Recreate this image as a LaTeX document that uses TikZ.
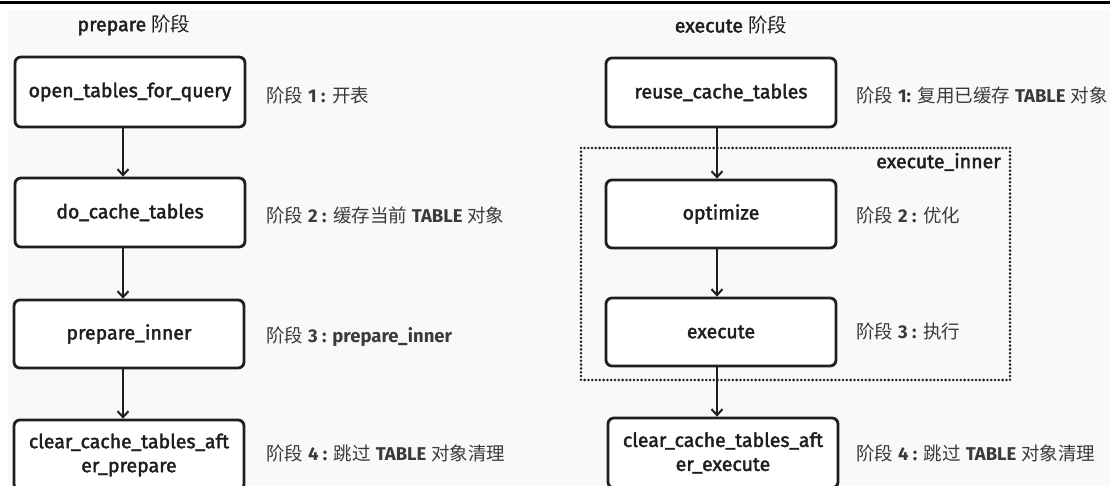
\documentclass[tikz,border=0pt]{standalone}
\usepackage{fontspec}
\usetikzlibrary{arrows.meta}
\setmainfont{Fira Sans}
\newfontfamily\boxfont{Fira Sans}[FakeBold=2]
\newfontfamily\cjk{Noto Sans CJK SC}
\definecolor{ink}{HTML}{1E1E1E}
\definecolor{bg}{HTML}{F8F9FA}
\definecolor{lblgray}{HTML}{3A3A3A}
\tikzset{
  stepbox/.style={draw=ink, line width=2.8pt, rounded corners=6pt, fill=white,
    minimum width=230pt, inner sep=0pt, text=ink, align=center,
    font=\boxfont\fontsize{19.5}{24}\selectfont},
  lbl/.style={anchor=west, inner sep=0pt, text=lblgray, font=\fontsize{18.5}{20}\selectfont},
  ttl/.style={inner sep=0pt, text=ink, font=\boxfont\fontsize{19.5}{22}\selectfont},
  flow/.style={draw=ink, line width=2pt, -{Straight Barb[length=6pt,width=11pt,line width=2pt]}},
  group/.style={draw=ink, line width=2.8pt, line cap=round, dash pattern=on 0pt off 3.8pt},
}
\newcommand{\jd}{{\cjk 阶段}}
\begin{document}
\begin{tikzpicture}[x=1pt,y=-1pt]
\useasboundingbox (0,0) rectangle (1110,486);
\fill[white] (0,0) rectangle (1110,486);
\fill[bg] (8,10) rectangle (1110,486);
\fill[black] (0,1.5) rectangle (1110,4);

% titles
\node[ttl] (tp) at (134,25) {prepare {\cjk 阶段}};
\node[ttl] (te) at (731,25) {execute {\cjk 阶段}};

% left column
\node[stepbox, minimum height=70pt] (p1) at (130,92) {open\_tables\_for\_query};
\node[stepbox, minimum height=69pt] (p2) at (130,212.5) {do\_cache\_tables};
\node[stepbox, minimum height=68pt] (p3) at (129,334) {prepare\_inner};
\node[stepbox, minimum height=70pt] (p4) at (129,455) {clear\_cache\_tables\_aft\\er\_prepare};

\node[lbl] (lp1) at (266,95) {\jd\ {\bfseries 1 :} {\cjk 开表}};
\node[lbl] (lp2) at (266,215) {\jd\ {\bfseries 2 :} {\cjk 缓存当前} {\bfseries TABLE} {\cjk 对象}};
\node[lbl] (lp3) at (266,337) {\jd\ {\bfseries 3 : prepare\_inner}};
\node[lbl] (lp4) at (266,453) {\jd\ {\bfseries 4 :} {\cjk 跳过} {\bfseries TABLE} {\cjk 对象清理}};

\draw[flow] ([xshift=-7pt]p1.south) -- ([xshift=-7pt]p2.north);
\draw[flow] ([xshift=-7pt]p2.south) -- ([xshift=-6pt]p3.north);
\draw[flow] ([xshift=-6pt]p3.south) -- ([xshift=-6pt]p4.north);

% right column
\draw[group] (581,148) rectangle (1010,380);
\node[ttl, anchor=east] (gi) at (1001,162) {execute\_inner};

\node[stepbox, minimum height=69pt] (e1) at (721,92.5) {reuse\_cache\_tables};
\node[stepbox, minimum height=68pt] (e2) at (721,214) {optimize};
\node[stepbox, minimum height=68pt] (e3) at (721,332) {execute};
\node[stepbox, minimum height=70pt] (e4) at (723,453) {clear\_cache\_tables\_aft\\er\_execute};

\node[lbl] (le1) at (856,95) {\jd\ {\bfseries 1:} {\cjk 复用已缓存} {\bfseries TABLE} {\cjk 对象}};
\node[lbl] (le2) at (856,215) {\jd\ {\bfseries 2 :} {\cjk 优化}};
\node[lbl] (le3) at (856,331) {\jd\ {\bfseries 3 :} {\cjk 执行}};
\node[lbl] (le4) at (856,453) {\jd\ {\bfseries 4 :} {\cjk 跳过} {\bfseries TABLE} {\cjk 对象清理}};

\draw[flow] ([xshift=-4pt]e1.south) -- ([xshift=-4pt]e2.north);
\draw[flow] ([xshift=-4pt]e2.south) -- ([xshift=-4pt]e3.north);
\draw[flow] ([xshift=-4pt]e3.south) -- ([xshift=-6pt]e4.north);
\end{tikzpicture}
\end{document}
